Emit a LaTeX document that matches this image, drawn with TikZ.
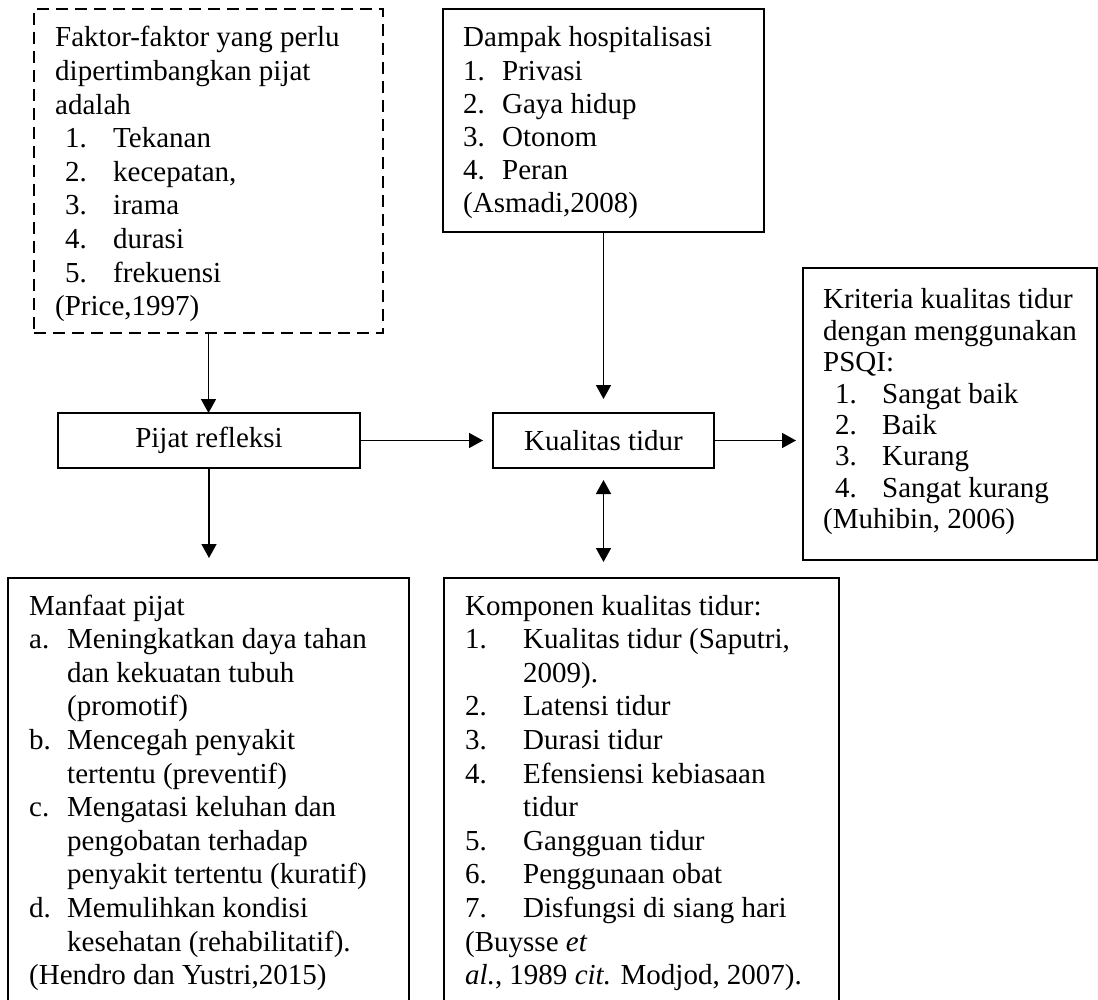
\documentclass[tikz,border=0pt]{standalone}
\usepackage{fontspec}
\setmainfont{Liberation Serif}
\usetikzlibrary{arrows.meta}
\newcommand{\mylbl}[2]{\makebox[#1][l]{#2}}
\tikzset{
  box/.style={draw, line width=1.3pt, anchor=north west, inner sep=0pt, outer sep=0pt},
  dbox/.style={box, dash pattern=on 12pt off 7pt},
  txt/.style={anchor=base west, inner sep=0pt},
  arr/.style={line width=1.6pt, -{Triangle[length=14pt,width=15pt]}},
  darr/.style={line width=1.6pt, {Triangle[length=14pt,width=15pt]}-{Triangle[length=14pt,width=15pt]}},
}
\begin{document}
\begin{tikzpicture}[x=1pt,y=-1pt]
\useasboundingbox (0,0) rectangle (1098,1000);

% boxes
\node[dbox, minimum width=349pt, minimum height=324pt] (fak) at (34,9) {};
\node[box, minimum width=321pt, minimum height=223pt] (dam) at (443,9) {};
\node[box, minimum width=294pt, minimum height=292pt] (krit) at (803,268) {};
\node[box, minimum width=302pt, minimum height=55pt] (pij) at (58,413) {};
\node[box, minimum width=221pt, minimum height=55pt] (kual) at (493,413) {};
\node[box, minimum width=401pt, minimum height=423pt] (manf) at (8,578) {};
\node[box, minimum width=395pt, minimum height=423pt] (komp) at (444,578) {};

% texts
\node[txt, font=\fontsize{29}{33.6}\selectfont] (faktxt) at (55,47) {\begin{tabular}[t]{@{}l@{}}
Faktor-faktor yang perlu\\
dipertimbangkan pijat\\
adalah\\
\hspace*{10pt}\mylbl{48pt}{1.}Tekanan\\
\hspace*{10pt}\mylbl{48pt}{2.}kecepatan,\\
\hspace*{10pt}\mylbl{48pt}{3.}irama\\
\hspace*{10pt}\mylbl{48pt}{4.}durasi\\
\hspace*{10pt}\mylbl{48pt}{5.}frekuensi\\
(Price,1997)
\end{tabular}};

\node[txt, font=\fontsize{29}{33.2}\selectfont] (damtxt) at (463,47) {\begin{tabular}[t]{@{}l@{}}
Dampak hospitalisasi\\
\mylbl{39pt}{1.}Privasi\\
\mylbl{39pt}{2.}Gaya hidup\\
\mylbl{39pt}{3.}Otonom\\
\mylbl{39pt}{4.}Peran\\
(Asmadi,2008)
\end{tabular}};

\node[txt, font=\fontsize{29}{31.4}\selectfont] (krittxt) at (823,309) {\begin{tabular}[t]{@{}l@{}}
Kriteria kualitas tidur\\
dengan menggunakan\\
PSQI:\\
\hspace*{12pt}\mylbl{47pt}{1.}Sangat baik\\
\hspace*{12pt}\mylbl{47pt}{2.}Baik\\
\hspace*{12pt}\mylbl{47pt}{3.}Kurang\\
\hspace*{12pt}\mylbl{47pt}{4.}Sangat kurang\\
(Muhibin, 2006)
\end{tabular}};

\node[inner sep=0pt, font=\fontsize{29}{33.6}\selectfont] (pijtxt) at (pij.center) {Pijat refleksi};
\node[inner sep=0pt, font=\fontsize{29}{33.6}\selectfont] (kualtxt) at (kual.center) {Kualitas tidur};

\node[txt, font=\fontsize{29}{33.6}\selectfont] (manftxt) at (29,615) {\begin{tabular}[t]{@{}l@{}}
Manfaat pijat\\
\mylbl{38pt}{a.}Meningkatkan daya tahan\\
\hspace*{38pt}dan kekuatan tubuh\\
\hspace*{38pt}(promotif)\\
\mylbl{38pt}{b.}Mencegah penyakit\\
\hspace*{38pt}tertentu (preventif)\\
\mylbl{38pt}{c.}Mengatasi keluhan dan\\
\hspace*{38pt}pengobatan terhadap\\
\hspace*{38pt}penyakit tertentu (kuratif)\\
\mylbl{38pt}{d.}Memulihkan kondisi\\
\hspace*{38pt}kesehatan (rehabilitatif).\\
(Hendro dan Yustri,2015)
\end{tabular}};

\node[txt, font=\fontsize{29}{33.6}\selectfont] (komptxt) at (465,615) {\begin{tabular}[t]{@{}l@{}}
Komponen kualitas tidur:\\
\mylbl{58pt}{1.}Kualitas tidur (Saputri,\\
\hspace*{58pt}2009).\\
\mylbl{58pt}{2.}Latensi tidur\\
\mylbl{58pt}{3.}Durasi tidur\\
\mylbl{58pt}{4.}Efensiensi kebiasaan\\
\hspace*{58pt}tidur\\
\mylbl{58pt}{5.}Gangguan tidur\\
\mylbl{58pt}{6.}Penggunaan obat\\
\mylbl{58pt}{7.}Disfungsi di siang hari\\
(Buysse \textit{et}\\
\textit{al.}, 1989 \textit{cit.} Modjod, 2007).
\end{tabular}};

% connectors
\coordinate (pijend) at ([yshift=-90pt]pij.south);
\draw[arr] (fak.south) -- (fak.south |- pij.north);
\draw[arr] (pij.south) -- (pijend);
\draw[arr, shorten >=10pt] (pij.east) -- (kual.west);
\draw[arr, shorten >=14pt] (dam.south) -- (dam.south |- kual.north);
\draw[arr, shorten >=7pt] (kual.east) -- (kual.east -| krit.west);
\draw[darr, shorten <=12pt, shorten >=16pt] (kual.south) -- (kual.south |- komp.north);
\end{tikzpicture}
\end{document}
